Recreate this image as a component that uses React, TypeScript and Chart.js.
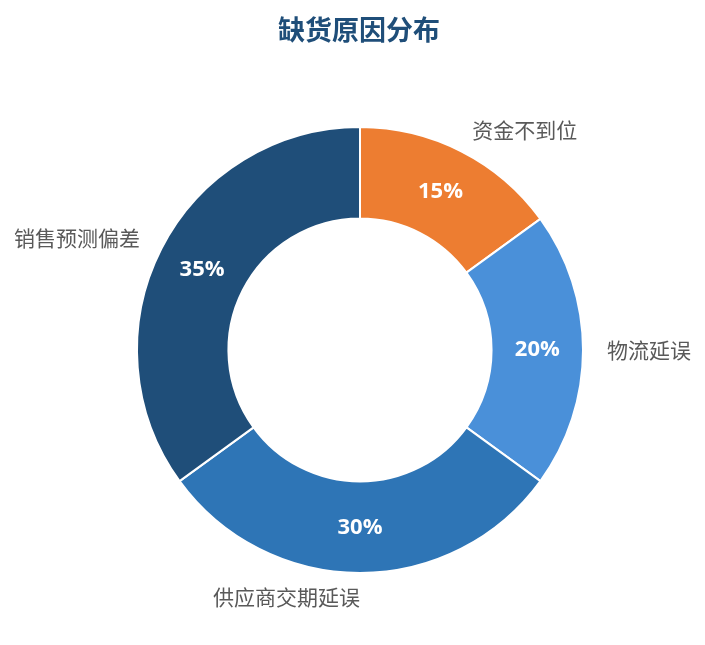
import React, { useEffect, useRef } from "react";
import { Chart, registerables } from "chart.js";

Chart.register(...registerables);

const categories = ["资金不到位", "物流延误", "供应商交期延误", "销售预测偏差"];
const values = [15, 20, 30, 35];
const colors = ["#ED7D31", "#4A90D9", "#2E75B6", "#1F4E79"];
const titleText = "缺货原因分布";

const labelPlugin = {
  id: "customLabels",
  afterDatasetsDraw(chart: any) {
    const ctx = chart.ctx;
    const meta = chart.getDatasetMeta(0);
    const total = values.reduce((a, b) => a + b, 0);
    ctx.save();
    meta.data.forEach((arc: any, i: number) => {
      const { x, y, startAngle, endAngle, innerRadius, outerRadius } = arc.getProps(
        ["x", "y", "startAngle", "endAngle", "innerRadius", "outerRadius"],
        true
      );
      const mid = (startAngle + endAngle) / 2;
      const rIn = (innerRadius + outerRadius) / 2;
      ctx.fillStyle = "#ffffff";
      ctx.font = "bold 22px 'Open Sans', 'Noto Sans', sans-serif";
      ctx.textAlign = "center";
      ctx.textBaseline = "middle";
      const pct = Math.round((values[i] / total) * 100) + "%";
      ctx.fillText(pct, x + rIn * Math.cos(mid), y + rIn * Math.sin(mid));

      const rOut = outerRadius + 24;
      const lx = x + rOut * Math.cos(mid);
      const ly = y + rOut * Math.sin(mid);
      ctx.fillStyle = "#595959";
      ctx.font = "21px 'Noto Sans CJK SC', sans-serif";
      ctx.textAlign = Math.cos(mid) > 0.01 ? "left" : "right";
      ctx.fillText(categories[i], lx, ly);
    });
    ctx.fillStyle = "#1F4E79";
    ctx.font = "bold 27px 'Noto Sans CJK SC', sans-serif";
    ctx.textAlign = "center";
    ctx.textBaseline = "middle";
    ctx.fillText(titleText, 359, 30);
    ctx.restore();
  },
};

export default function App() {
  const ref = useRef<HTMLCanvasElement | null>(null);
  useEffect(() => {
    document.body.style.margin = "0";
    if (!ref.current) return;
    const chart = new Chart(ref.current, {
      type: "doughnut",
      data: {
        labels: categories,
        datasets: [
          {
            data: values,
            backgroundColor: colors,
            borderColor: "#ffffff",
            borderWidth: 2,
          },
        ],
      },
      options: {
        responsive: false,
        animation: false,
        cutout: "59%",
        layout: { padding: { left: 136, right: 121, top: 126, bottom: 71 } },
        plugins: {
          legend: { display: false },
          title: { display: false },
          tooltip: { enabled: false },
        },
      },
      plugins: [labelPlugin],
    });
    return () => chart.destroy();
  }, []);
  return (
    <div style={{ width: 705, height: 645 }}>
      <canvas ref={ref} width={705} height={645} style={{ width: 705, height: 645 }} />
    </div>
  );
}
